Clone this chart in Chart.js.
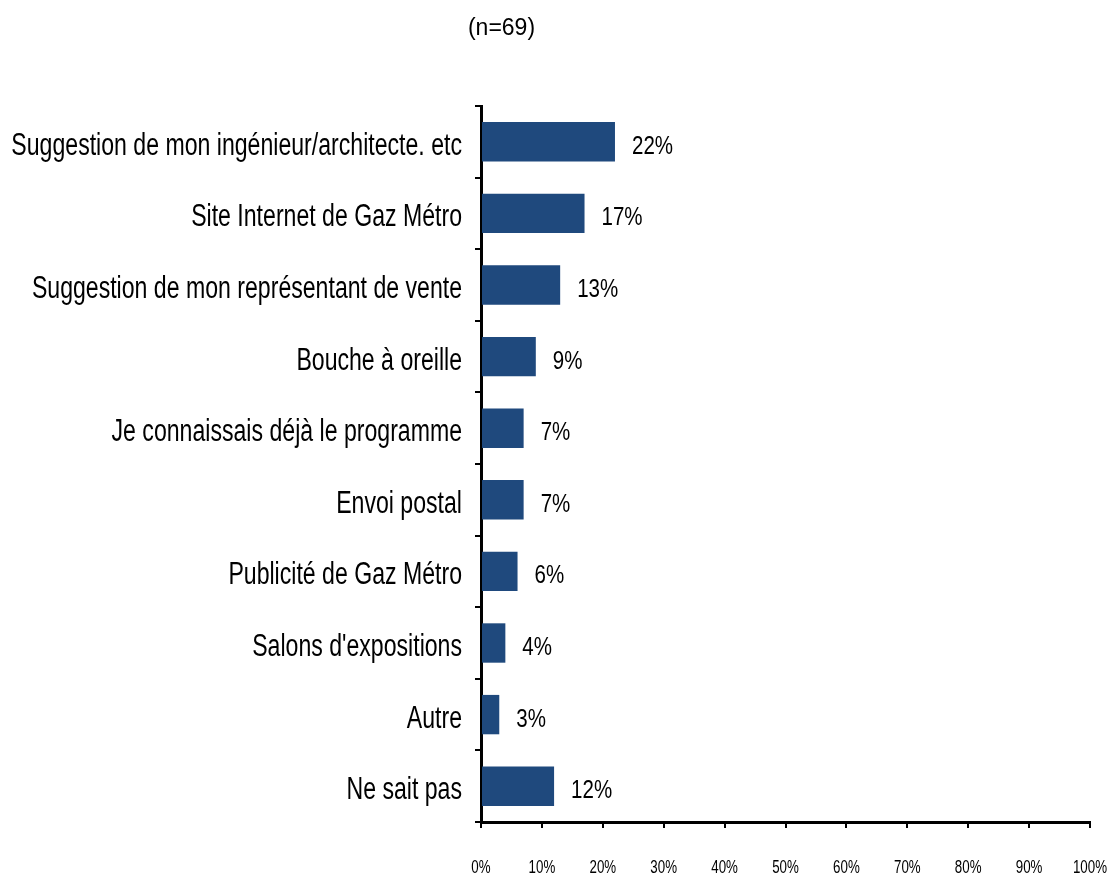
<!DOCTYPE html>
<html>
<head>
<meta charset="utf-8">
<script src="https://cdn.jsdelivr.net/npm/chart.js@4"></script>
<style>
  html, body { margin: 0; padding: 0; background: #fff; }
  #wrap { position: relative; width: 1112px; height: 875px; }
  #note { position: absolute; left: 0; width: 1003px; top: 14px; text-align: center;
          font: 23px "Liberation Sans", Arial, sans-serif; color: #000; }
</style>
</head>
<body>
<div id="wrap">
  <canvas id="c" width="1112" height="875"></canvas>
  <div id="note">(n=69)</div>
</div>
<script>
const categories = [
    'Suggestion de mon ingénieur/architecte. etc',
    'Site Internet de Gaz Métro',
    'Suggestion de mon représentant de vente',
    'Bouche à oreille',
    'Je connaissais déjà le programme',
    'Envoi postal',
    'Publicité de Gaz Métro',
    "Salons d'expositions",
    'Autre',
    'Ne sait pas'
];
const values = [22, 17, 13, 9, 7, 7, 6, 4, 3, 12];
const axisTicks = [0, 10, 20, 30, 40, 50, 60, 70, 80, 90, 100];

const FONT = '"Liberation Sans", Arial, sans-serif';

// texte condensé (pas de police "narrow" installée)
function narrowText(ctx, text, x, y, size, squeeze, align) {
    ctx.save();
    ctx.font = size + 'px ' + FONT;
    ctx.fillStyle = '#000';
    ctx.textBaseline = 'alphabetic';
    ctx.textAlign = align;
    ctx.translate(x, y);
    ctx.scale(squeeze, 1);
    ctx.fillText(text, 0, 0);
    ctx.restore();
}

const labelsPlugin = {
    id: 'labelsPlugin',
    afterDraw(chart) {
        const ctx = chart.ctx;
        const ys = chart.scales.y;
        const xs = chart.scales.x;
        const meta = chart.getDatasetMeta(0);
        // catégories
        categories.forEach((c, i) => {
            narrowText(ctx, c, ys.right - 19, ys.getPixelForValue(i) + 13, 31, 0.745, 'right');
        });
        // valeurs
        meta.data.forEach((bar, i) => {
            narrowText(ctx, values[i] + '%', bar.x + 17, bar.y + 12, 25, 0.82, 'left');
        });
        // graduations
        axisTicks.forEach(v => {
            narrowText(ctx, v + '%', xs.getPixelForValue(v), xs.top + 51, 18, 0.74, 'center');
        });
    }
};

new Chart(document.getElementById('c').getContext('2d'), {
    type: 'bar',
    data: {
        labels: categories,
        datasets: [{
            data: values,
            backgroundColor: '#1f497d',
            barPercentage: 0.55,
            categoryPercentage: 1
        }]
    },
    options: {
        indexAxis: 'y',
        responsive: false,
        animation: false,
        layout: { padding: { top: 106, right: 22, bottom: 0, left: 0 } },
        plugins: { legend: { display: false }, tooltip: { enabled: false } },
        scales: {
            x: {
                min: 0, max: 100,
                afterBuildTicks(scale) { scale.ticks = axisTicks.map(v => ({ value: v })); },
                afterFit(scale) { scale.height = 53; scale.paddingLeft = 0; scale.paddingRight = 0; },
                border: { color: '#000', width: 3 },
                grid: { drawOnChartArea: false, tickLength: 6, color: '#000', lineWidth: 2 },
                ticks: { display: false }
            },
            y: {
                afterFit(scale) { scale.width = 481; },
                border: { color: '#000', width: 3 },
                grid: { drawOnChartArea: false, tickLength: 6, color: '#000', lineWidth: 2, offset: true },
                ticks: { display: false }
            }
        }
    },
    plugins: [labelsPlugin]
});
</script>
</body>
</html>
